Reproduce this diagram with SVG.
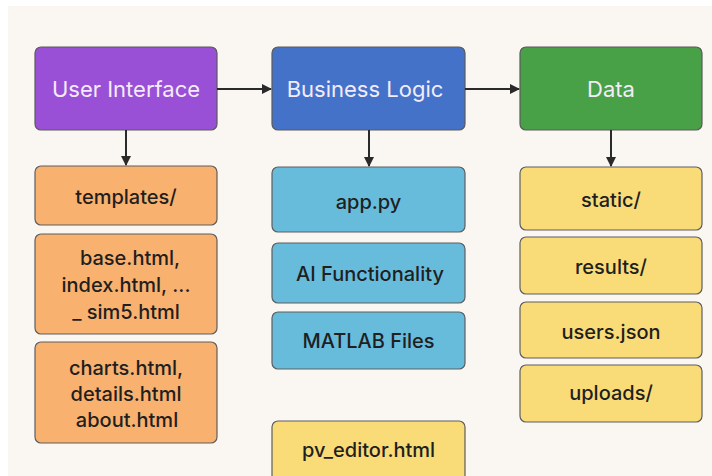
<svg xmlns="http://www.w3.org/2000/svg" width="712" height="476" viewBox="0 0 712 476">
<defs>
<marker id="ah" viewBox="0 0 10 10" refX="9" refY="5" markerWidth="5" markerHeight="5" orient="auto" markerUnits="strokeWidth">
<path d="M0,0 L10,5 L0,10 z" fill="#2a2a2a"/>
</marker>
</defs>
<style>
.hdr rect{stroke:#5a5a5a;stroke-width:1.2}
.hdr text{fill:#f3ecf8;font-family:Inter,"Open Sans","Liberation Sans",sans-serif;font-size:22px;text-anchor:middle}
.box rect{stroke:#5e5e5e;stroke-width:1.2}
.box text{fill:#1f1f1f;font-family:Inter,"Open Sans","Liberation Sans",sans-serif;font-size:20px;font-weight:500;text-anchor:middle}
.or rect{fill:#f9b16f}
.bl rect{fill:#67bcdc}
.ye rect{fill:#f9dc78}
.conn line{stroke:#2a2a2a;stroke-width:2;marker-end:url(#ah)}
</style>
<rect x="0" y="0" width="712" height="476" fill="#ffffff"/>
<rect x="8" y="6" width="704" height="470" fill="#faf7f2"/>

<g id="ui" class="hdr"><rect x="35" y="47" width="182" height="83" rx="6" fill="#9a4fd7"/><text x="126" y="97">User Interface</text></g>
<g id="bl" class="hdr"><rect x="272" y="47" width="193" height="83" rx="6" fill="#4572c9"/><text x="365" y="97">Business Logic</text></g>
<g id="data" class="hdr"><rect x="520" y="47" width="182" height="83" rx="6" fill="#48a047"/><text x="611" y="97">Data</text></g>

<g id="templates" class="box or"><rect x="35" y="166" width="182" height="59" rx="6"/><text x="126" y="204">templates/</text></g>
<g id="base" class="box or"><rect x="35" y="234" width="182" height="100" rx="6"/><text x="130" y="265">base.html,</text><text x="126" y="292">index.html, ...</text><text x="126" y="319">_ sim5.html</text></g>
<g id="charts" class="box or"><rect x="35" y="342" width="182" height="101" rx="6"/><text x="126" y="375">charts.html,</text><text x="126" y="401">details.html</text><text x="127" y="427">about.html</text></g>

<g id="app" class="box bl"><rect x="272" y="167" width="193" height="65" rx="6"/><text x="368.5" y="209">app.py</text></g>
<g id="ai" class="box bl"><rect x="272" y="243" width="193" height="60" rx="6"/><text x="370" y="281">AI Functionality</text></g>
<g id="matlab" class="box bl"><rect x="272" y="312" width="193" height="57" rx="6"/><text x="368.5" y="348">MATLAB Files</text></g>
<g id="pv" class="box ye"><rect x="272" y="421" width="193" height="62" rx="6"/><text x="368.5" y="457">pv_editor.html</text></g>

<g id="static" class="box ye"><rect x="520" y="167" width="182" height="63" rx="6"/><text x="611" y="207">static/</text></g>
<g id="results" class="box ye"><rect x="520" y="237" width="182" height="57" rx="6"/><text x="611" y="274">results/</text></g>
<g id="users" class="box ye"><rect x="520" y="302" width="182" height="56" rx="6"/><text x="611" y="339">users.json</text></g>
<g id="uploads" class="box ye"><rect x="520" y="365" width="182" height="57" rx="6"/><text x="611" y="400">uploads/</text></g>

<g id="connectors" class="conn">
<line x1="217" y1="89" x2="271" y2="89"/>
<line x1="465" y1="89" x2="519" y2="89"/>
<line x1="126" y1="130" x2="126" y2="165"/>
<line x1="369" y1="130" x2="369" y2="166"/>
<line x1="611" y1="130" x2="611" y2="166"/>
</g>
</svg>
